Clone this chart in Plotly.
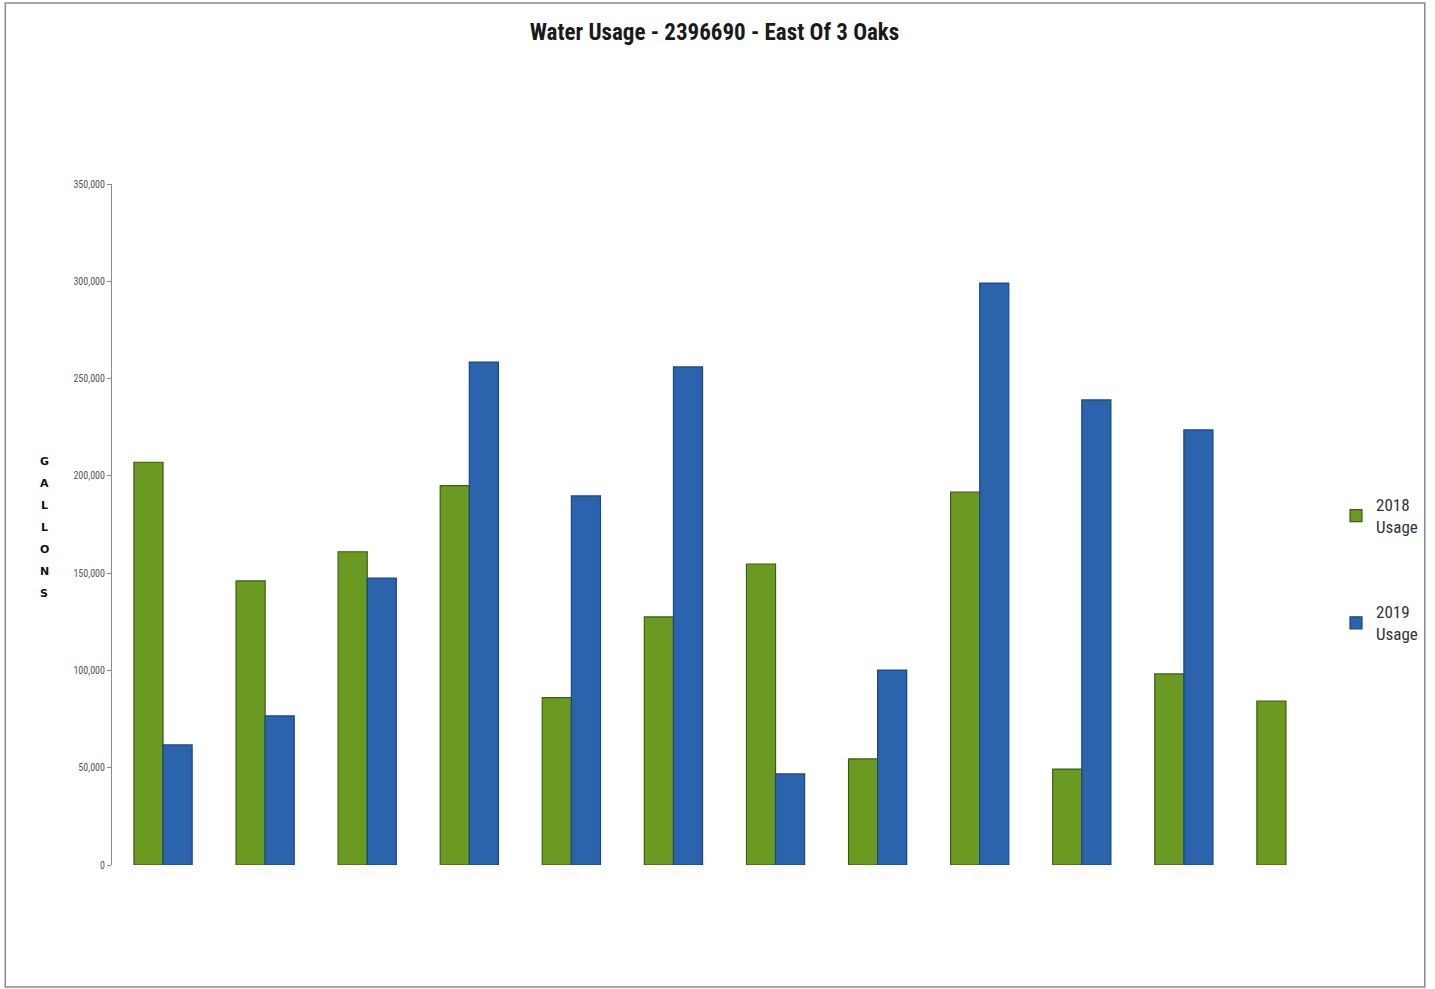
import plotly.graph_objects as go

months = ["Jan", "Feb", "Mar", "Apr", "May", "Jun", "Jul", "Aug", "Sep", "Oct", "Nov", "Dec"]
usage_2018 = [207000, 146000, 161000, 195000, 86000, 127500, 154700, 54500, 191700, 49300, 98200, 84300]
usage_2019 = [61700, 76600, 147500, 258500, 189700, 256000, 46800, 100200, 299100, 239000, 223600, None]
y_ticks = [0, 50000, 100000, 150000, 200000, 250000, 300000, 350000]
axis_title_letters = list("GALLONS")

W, H = 1435, 989
L, T, B = 112, 184, 124
R = W - 1340
plot_h = H - T - B
plot_w = W - L - R

fig = go.Figure()
fig.add_trace(go.Bar(
    x=months, y=usage_2018, name="2018<br>Usage",
    marker=dict(color="#6a9a22", line=dict(color="#3d5e0f", width=1.2)),
    legendgroup="a",
))
fig.add_trace(go.Bar(
    x=months, y=usage_2019, name="2019<br>Usage",
    marker=dict(color="#2b63ad", line=dict(color="#1c4682", width=1.2)),
    legendgroup="b",
))

narrow = "Liberation Sans Narrow, Arial Narrow, Roboto Condensed, sans-serif"

fig.update_layout(
    width=W, height=H, autosize=False,
    paper_bgcolor="white", plot_bgcolor="white",
    margin=dict(l=L, r=R, t=T, b=B),
    barmode="group", bargap=0.43, bargroupgap=0.0,
    title=dict(text="<b>Water Usage - 2396690 - East Of 3 Oaks</b>",
               x=(716 - L) / plot_w, xref="paper", xanchor="center", y=1 - 32 / H, yanchor="middle",
               font=dict(family=narrow, size=23, color="#1a1a1a")),
    font=dict(family=narrow),
    showlegend=True,
    legend=dict(x=(1339 - L) / plot_w, y=(H - B - 487) / plot_h, xanchor="left", yanchor="top",
                font=dict(family=narrow, size=17, color="#333333"),
                traceorder="grouped", tracegroupgap=60, itemwidth=30,
                bgcolor="rgba(0,0,0,0)"),
    xaxis=dict(showline=False, ticks="", showgrid=False,
               tickfont=dict(size=11, color="#f8f8f8")),
    yaxis=dict(range=[0, 350000], tickvals=y_ticks, tickformat=",",
               showline=True, linecolor="#8a8a8a", linewidth=1,
               ticks="outside", ticklen=4, tickcolor="#8a8a8a",
               showgrid=False, zeroline=False,
               tickfont=dict(family=narrow, size=10, color="#555555")),
)

for i, ch in enumerate(axis_title_letters):
    py = 461 + 22 * i
    fig.add_annotation(
        text="<b>" + ch + "</b>",
        xref="paper", yref="paper", x=(44 - L) / plot_w, y=(H - B - py) / plot_h,
        xanchor="center", yanchor="middle", showarrow=False,
        font=dict(family="DejaVu Sans, sans-serif", size=11, color="#111111"),
    )

fig.add_shape(type="rect", xref="paper", yref="paper",
              x0=(5 - L) / plot_w, x1=(1428 - L) / plot_w,
              y0=(H - B - 987) / plot_h, y1=(H - B - 3) / plot_h,
              line=dict(color="#8a8a8a", width=1.5))

fig.write_html(
    "out.html",
    config={"displayModeBar": False, "responsive": False},
    post_script="document.body.style.margin='0';document.body.style.overflow='hidden';",
)
